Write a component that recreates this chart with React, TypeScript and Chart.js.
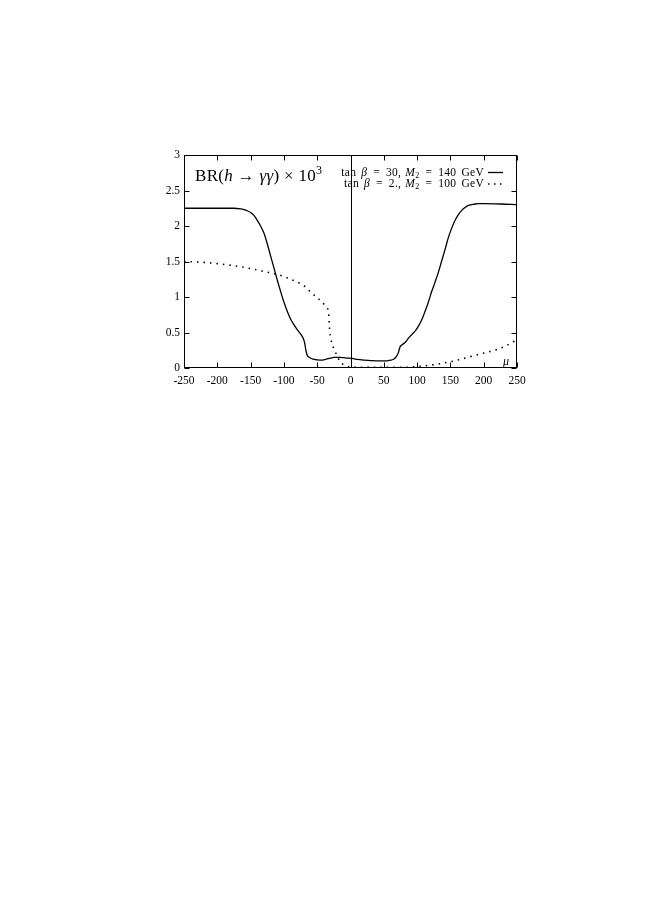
import React, { useEffect, useRef } from "react";
import { Chart, registerables } from "chart.js";

Chart.register(...registerables);

// ---- data ----
const muSolid = [
  -250, -200, -175, -165, -160, -155, -150, -145, -140, -135, -130, -125, -120, -115, -110, -105,
  -100, -95, -90, -85, -80, -75, -71, -69, -67, -65, -62, -58, -54, -50, -46, -40, -35, -30, -25,
  -20, -15, -10, -5, 0, 10, 20, 30, 40, 50, 55, 60, 64, 67, 70, 72, 74, 78, 83, 87, 92, 97, 102,
  107, 112, 117, 122, 127, 132, 137, 142, 147, 152, 157, 162, 167, 172, 177, 182, 187, 192, 200,
  225, 250,
];
const brSolid = [
  2.25, 2.25, 2.25, 2.24, 2.23, 2.215, 2.19, 2.15, 2.08, 2.0, 1.9, 1.75, 1.58, 1.41, 1.24, 1.08,
  0.93, 0.8, 0.69, 0.61, 0.54, 0.48, 0.42, 0.36, 0.25, 0.18, 0.15, 0.13, 0.12, 0.115, 0.11, 0.115,
  0.13, 0.14, 0.15, 0.15, 0.15, 0.145, 0.14, 0.14, 0.12, 0.11, 0.105, 0.1, 0.1, 0.1, 0.11, 0.12,
  0.14, 0.18, 0.22, 0.29, 0.33, 0.37, 0.42, 0.47, 0.52, 0.59, 0.68, 0.8, 0.93, 1.08, 1.21, 1.35,
  1.51, 1.67, 1.84, 1.97, 2.08, 2.16, 2.22, 2.26, 2.29, 2.3, 2.31, 2.315, 2.315, 2.31, 2.3,
];
const muDotted = [
  -250, -225, -200, -175, -150, -125, -110, -100, -90, -80, -70, -60, -50, -45, -40, -35, -33, -32,
  -31, -30, -28, -25, -22, -18, -15, -10, -5, 0, 20, 50, 80, 100, 120, 140, 160, 180, 200, 220, 235,
  250,
];
const brDotted = [
  1.5, 1.49, 1.47, 1.44, 1.4, 1.35, 1.32, 1.29, 1.25, 1.21, 1.16, 1.07, 0.99, 0.95, 0.9, 0.84, 0.8,
  0.63, 0.5, 0.44, 0.35, 0.27, 0.21, 0.13, 0.08, 0.045, 0.025, 0.015, 0.01, 0.01, 0.01, 0.02, 0.04,
  0.07, 0.11, 0.16, 0.21, 0.26, 0.32, 0.4,
];
const xTickValues = [-250, -200, -150, -100, -50, 0, 50, 100, 150, 200, 250];
const yTickValues = [0, 0.5, 1, 1.5, 2, 2.5, 3];

type Run = { t: string; style?: "n" | "i" | "sup" | "sub"; gap?: number };
const titleRuns: Run[] = [
  { t: "BR(" },
  { t: "h", style: "i" },
  { t: " → " },
  { t: "γγ", style: "i" },
  { t: ") × 10" },
  { t: "3", style: "sup" },
];
const legend1Runs: Run[] = [
  { t: "tan", gap: 5 },
  { t: "β", style: "i", gap: 6 },
  { t: "=", gap: 6 },
  { t: "30,", gap: 4 },
  { t: "M", style: "i" },
  { t: "2", style: "sub", gap: 6 },
  { t: "=", gap: 6 },
  { t: "140", gap: 5 },
  { t: "GeV" },
];
const legend2Runs: Run[] = [
  { t: "tan", gap: 5 },
  { t: "β", style: "i", gap: 6 },
  { t: "=", gap: 6 },
  { t: "2.,", gap: 4 },
  { t: "M", style: "i" },
  { t: "2", style: "sub", gap: 6 },
  { t: "=", gap: 6 },
  { t: "100", gap: 5 },
  { t: "GeV" },
];
const axisLabelX = "μ";

const FONT = '"Liberation Serif", "Times New Roman", serif';

function runFont(style: string | undefined, size: number) {
  if (style === "i") return `italic ${size}px ${FONT}`;
  if (style === "sup" || style === "sub") return `${Math.round(size * 0.7)}px ${FONT}`;
  return `${size}px ${FONT}`;
}

function drawRuns(
  ctx: CanvasRenderingContext2D,
  runs: Run[],
  x: number,
  y: number,
  size: number,
  align: "left" | "right",
  spacing = 0
) {
  (ctx as any).letterSpacing = `${spacing}px`;
  let total = 0;
  const widths = runs.map((r) => {
    ctx.font = runFont(r.style, size);
    const w = ctx.measureText(r.t).width;
    total += w + (r.gap || 0);
    return w;
  });
  let cx = align === "right" ? x - total : x;
  runs.forEach((r, i) => {
    ctx.font = runFont(r.style, size);
    let dy = 0;
    if (r.style === "sup") dy = -size * 0.42;
    if (r.style === "sub") dy = size * 0.22;
    ctx.fillText(r.t, cx, y + dy);
    cx += widths[i] + (r.gap || 0);
  });
  (ctx as any).letterSpacing = "0px";
}

const framePlugin = {
  id: "frame",
  beforeDatasetsDraw(chart: any) {
    const { ctx, chartArea: a, scales } = chart;
    const x0 = Math.round(scales.x.getPixelForValue(0)) + 0.5;
    ctx.save();
    ctx.strokeStyle = "#000";
    ctx.lineWidth = 1;
    ctx.beginPath();
    ctx.moveTo(x0, a.top);
    ctx.lineTo(x0, a.bottom);
    ctx.stroke();
    ctx.restore();
  },
  afterDraw(chart: any) {
    const { ctx, chartArea: a, scales } = chart;
    ctx.save();
    ctx.strokeStyle = "#000";
    ctx.lineWidth = 1;
    const L = a.left + 0.5;
    const R = a.right - 0.5;
    const T = a.top + 0.5;
    const B = a.bottom - 0.5;
    ctx.strokeRect(L, T, R - L, B - T);
    const tl = 5;
    ctx.beginPath();
    xTickValues.forEach((v) => {
      const px = Math.round(scales.x.getPixelForValue(v)) + 0.5;
      ctx.moveTo(px, B);
      ctx.lineTo(px, B - tl);
      ctx.moveTo(px, T);
      ctx.lineTo(px, T + tl);
    });
    yTickValues.forEach((v) => {
      const py = Math.round(scales.y.getPixelForValue(v)) + 0.5;
      ctx.moveTo(L, py);
      ctx.lineTo(L + tl, py);
      ctx.moveTo(R, py);
      ctx.lineTo(R - tl, py);
    });
    ctx.stroke();

    // title
    ctx.fillStyle = "#000";
    ctx.textBaseline = "alphabetic";
    ctx.textAlign = "left";
    drawRuns(ctx, titleRuns, a.left + 11, a.top + 26, 17, "left", 0.3);

    // legend
    const lx = a.right - 33;
    drawRuns(ctx, legend1Runs, lx, a.top + 20.5, 11.5, "right", 0.3);
    drawRuns(ctx, legend2Runs, lx, a.top + 31.5, 11.5, "right", 0.3);
    ctx.lineWidth = 1.3;
    ctx.beginPath();
    ctx.moveTo(lx + 4, a.top + 17.5);
    ctx.lineTo(lx + 19, a.top + 17.5);
    ctx.stroke();
    ctx.setLineDash([1.5, 4.5]);
    ctx.lineWidth = 1.6;
    ctx.beginPath();
    ctx.moveTo(lx + 4, a.top + 29);
    ctx.lineTo(lx + 21, a.top + 29);
    ctx.stroke();
    ctx.setLineDash([]);

    // mu label
    ctx.font = `italic 12px ${FONT}`;
    ctx.fillText(axisLabelX, a.right - 14, a.bottom - 3);
    ctx.restore();
  },
};

export default function App() {
  const ref = useRef<HTMLCanvasElement | null>(null);
  useEffect(() => {
    if (!ref.current) return;
    const chart = new Chart(ref.current, {
      type: "line",
      data: {
        datasets: [
          {
            label: "tan β = 30, M2 = 140 GeV",
            data: muSolid.map((m, i) => ({ x: m, y: brSolid[i] })),
            borderColor: "#000",
            borderWidth: 1.3,
            pointRadius: 0,
            cubicInterpolationMode: "monotone",
            fill: false,
          },
          {
            label: "tan β = 2., M2 = 100 GeV",
            data: muDotted.map((m, i) => ({ x: m, y: brDotted[i] })),
            borderColor: "#000",
            borderWidth: 1.6,
            borderDash: [1.5, 5],
            pointRadius: 0,
            cubicInterpolationMode: "monotone",
            fill: false,
            clip: 4,
          },
        ],
      },
      options: {
        responsive: false,
        animation: false,
        devicePixelRatio: 1,
        layout: { padding: { left: 144, top: 155, right: 137, bottom: 526 } },
        plugins: { legend: { display: false }, tooltip: { enabled: false }, title: { display: false } },
        scales: {
          x: {
            type: "linear",
            min: -250,
            max: 250,
            afterFit: (s: any) => {
              s.height = 30;
            },
            afterBuildTicks: (s: any) => {
              s.ticks = xTickValues.map((v) => ({ value: v }));
            },
            grid: { display: false, drawTicks: false },
            border: { display: false },
            ticks: {
              color: "#000",
              padding: 6,
              font: { family: FONT, size: 11.5 },
              maxRotation: 0,
              autoSkip: false,
              callback: (v: any) => String(v),
            },
          },
          y: {
            type: "linear",
            min: 0,
            max: 3,
            afterFit: (s: any) => {
              s.width = 40;
            },
            afterBuildTicks: (s: any) => {
              s.ticks = yTickValues.map((v) => ({ value: v }));
            },
            grid: { display: false, drawTicks: false },
            border: { display: false },
            ticks: {
              color: "#000",
              padding: 4,
              font: { family: FONT, size: 11.5 },
              autoSkip: false,
              callback: (v: any) => String(v),
            },
          },
        },
      },
      plugins: [framePlugin],
    } as any);
    return () => chart.destroy();
  }, []);
  return (
    <div style={{ position: "absolute", left: 0, top: 0, width: 654, height: 924 }}>
      <canvas ref={ref} width={654} height={924} style={{ display: "block" }} />
    </div>
  );
}
